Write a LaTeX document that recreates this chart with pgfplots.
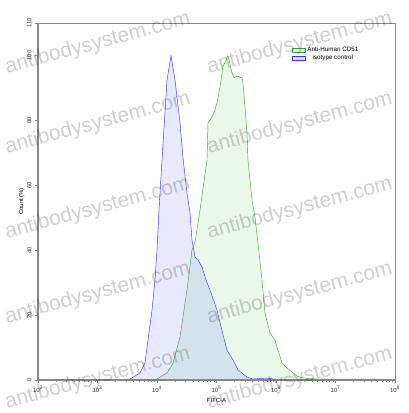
\documentclass[border=0pt]{standalone}
\usepackage{pgfplots}
\pgfplotsset{compat=1.18}
\usepackage{fontspec}
\setmainfont{Liberation Sans}

\definecolor{bluel}{RGB}{55,55,250}
\definecolor{greenl}{RGB}{60,165,60}
\definecolor{axgray}{RGB}{135,135,135}

\begin{document}
\begin{tikzpicture}[x=1bp,y=1bp]
\path[use as bounding box] (-38,-33) rectangle (371,380);
\clip (-38,-33) rectangle (371,380);
\begin{axis}[
  at={(0,0)}, anchor=south west,
  scale only axis,
  width=357bp, height=357bp,
  xmode=log,
  xmin=1e2, xmax=1e8,
  ymin=0, ymax=110,
  xtick={1e2,1e3,1e4,1e5,1e6,1e7,1e8},
  xticklabels={10\textsuperscript{2},10\textsuperscript{3},10\textsuperscript{4},10\textsuperscript{5},10\textsuperscript{6},10\textsuperscript{7},10\textsuperscript{8}},
  ytick={0,20,40,60,80,100,110},
  minor y tick num=4,
  tick align=outside,
  major tick length=3bp,
  minor tick length=1.5bp,
  every tick/.style={axgray, line width=0.5pt},
  axis line style={axgray, line width=0.6pt},
  xtick pos=bottom, ytick pos=left,
  /pgf/number format/assume math mode=true,
  tick label style={font=\fontsize{6}{7}\selectfont, text=black!80},
  yticklabel style={rotate=90, anchor=south},
  xlabel={FITC-A},
  ylabel={Count (\%)},
  label style={font=\fontsize{6}{7}\selectfont},
  xlabel style={yshift=1bp},
  ylabel style={yshift=-4bp},
  legend style={at={(0.702,0.945)}, anchor=north west, draw=none, fill=none,
    font=\fontsize{6.3}{7}\selectfont, row sep=-1.5bp,
    /tikz/every even column/.append style={column sep=2bp}},
  legend image code/.code={\draw[#1] (0bp,-2bp) rectangle (13bp,2bp);},
  clip=true,
]
% isotype control (blue)
\addplot[draw=bluel, line width=0.45pt, fill=blue, fill opacity=0.09, draw opacity=1, forget plot] coordinates {
(100,0) (1600,0) (2500,0) (3516,0.3) (5176,2.16) (6281,5.24) (7063,12.3) (8241,21.6)
(9247,30.8) (10000,40.1) (10810,52.4) (12130,67.8) (14720,92.4) (17180,100)
(20090,92.4) (24380,79.2) (27350,68.4) (31920,57.6) (35890,51.5) (38730,43.1)
(43550,37.9) (48870,37.0) (57020,34.8) (66680,30.8) (77800,27.7) (101900,21.6)
(114600,17.6) (150000,9.2) (189200,6.2) (229600,3.1) (325800,0.9) (410200,0.3)
(706300,0.6) (1175000,0) (1e8,0)
} \closedcycle;
% Anti-Human CD51 (green)
\addplot[draw=greenl, line width=0.45pt, fill=green!60!black, fill opacity=0.08, draw opacity=1, forget plot] coordinates {
(100,0) (8000,0) (10000,0.3) (14720,2.2) (18580,5.2) (24380,13.3) (31920,27.7)
(38730,40.1) (43550,42.5) (52840,52.4) (69180,67.8) (71940,79.2) (83950,81.0)
(94410,83.2) (101900,85.4) (114600,90.3) (128500,96.5) (156000,100) (182400,94.6)
(196800,93.1) (221300,93.7) (238800,93.4) (268500,93.1) (278600,91.5) (301300,84.1)
(325800,76.1) (338100,67.8) (395400,55.5) (443600,50.2) (497700,42.2) (582100,30.8)
(653100,20.6) (792500,14.5) (961600,12.3) (1081000,9.2) (1262000,5.2) (1531000,3.7)
(1858000,2.5) (2254000,1.2) (2844000,0.6) (4887000,0.3) (55980000,0.3) (1e8,0)
} \closedcycle;
\addlegendimage{draw=greenl, fill=green!60!black, fill opacity=0.12, line width=0.6pt}
\addlegendentry{Anti-Human CD51}
\addlegendimage{draw=bluel, fill=blue, fill opacity=0.12, line width=0.6pt}
\addlegendentry{isotype control}
\end{axis}
% thicker left and bottom axis lines
\draw[axgray, line width=1.2pt] (0,357) -- (0,0) -- (357,0);
% watermark
\foreach \yy in {35,120,205,290,370} {
  \foreach \xx in {-30,172} {
    \node[anchor=south west, rotate=15, text=black, opacity=0.19,
      font=\fontsize{21}{21}\selectfont, inner sep=0pt] at (\xx,\yy-68) {antibodysystem.com};
  }
}
\end{tikzpicture}
\end{document}
